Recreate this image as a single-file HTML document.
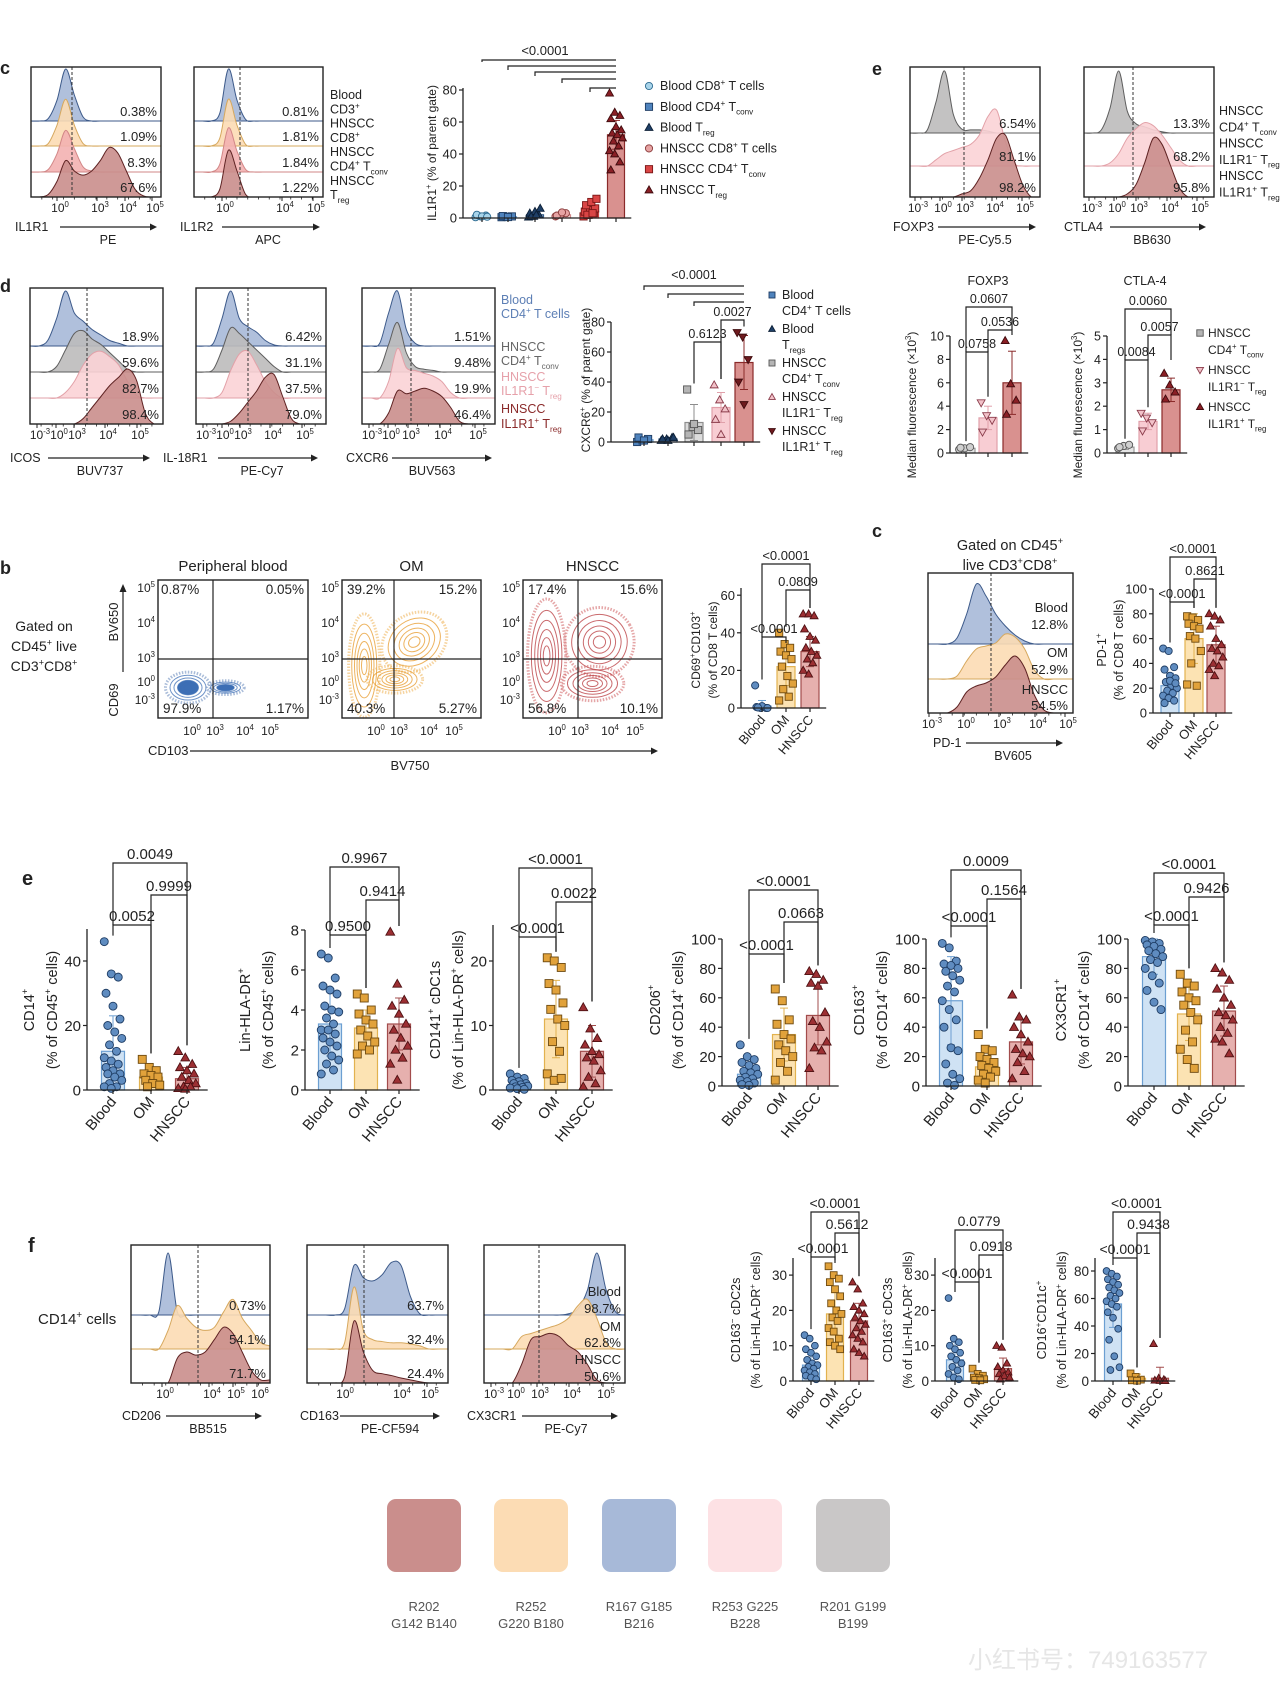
<!DOCTYPE html>
<html><head><meta charset="utf-8"><title>Figure panels</title>
<style>
html,body{margin:0;padding:0;background:#fff;}
svg{display:block;}
text{font-family:"Liberation Sans","Noto Sans CJK SC",sans-serif;}
</style></head>
<body>
<svg id="fig" xmlns="http://www.w3.org/2000/svg" width="1280" height="1706" viewBox="0 0 1280 1706">
<rect x="0" y="0" width="1280" height="1706" fill="#ffffff"/>
<text x="968" y="1668" font-size="24" fill="#e6e6e6">小红书号：749163577</text>
</svg>
<script>
// ===== Bar chart data =====
const c1Vals=[0.8,0.8,2,2,4,52];
const c1Errs=[0.5,0.5,1,1,2,9];
const c1Dots=[[0.5,1,1.5,2,1,0.8],[0.5,0.8,1,1.2,0.6],[0.5,1,2,3,4,6,1,2],[1,2,3,1.5,3.5],[1,2,3,4,5,6,8,10,12,2,3],[78,66,64,62,57,55,53,52,50,48,45,42,40,35,30]];
const c1Ticks=[0,20,40,60,80];
const dVals=[1.5,2,13,23,53];
const dErrs=[1,1,12,10,18];
const dDots=[[0,1,2,3,1],[1,2,3,2,1,3],[35,10,8,5,12],[38,28,22,15,5],[73,70,55,40,25]];
const dTicks=[0,20,40,60,80];
const foxVals=[0.4,3,6];
const foxErrs=[0.1,1,2.7];
const foxDots=[[0.3,0.4,0.5,0.45],[4.3,3.2,2.8,1.8],[9.6,5.9,4.5,3.3]];
const foxTicks=[0,2,4,6,8,10];
const ctlVals=[0.25,1.35,2.7];
const ctlErrs=[0.1,0.35,0.5];
const ctlDots=[[0.2,0.3,0.35,0.25],[1.7,1.5,1.3,0.95],[3.4,2.9,2.6,2.3]];
const ctlTicks=[0,1,2,3,4,5];
const bVals=[1,22,30];
const bErrs=[3,10,8];
const bDots=[[12,0,0,0.5,1,0,0.3],[40,34,32,30,28,26,22,17,13,10,6,4],[50,50,49,42,38,36,32,30,28,26,24,20,18]];
const bTicks=[0,20,40,60];
const cVals=[22,60,55];
const cErrs=[10,20,15];
const cDots=[[52,50,37,35,30,28,25,22,20,18,16,14,12,10,8,26,24],[78,77,75,72,70,68,62,60,50,40,22,23],[80,78,75,70,60,55,52,50,45,40,38,35,30]];
const cTicks=[0,20,40,60,80,100];
const e1Vals=[12,4,3.5];
const e1Errs=[11,3,3.5];
const e1Dots=[[46,36,35,30,26,22,20,18,16,14,12,10,9,8,7,6,5,5,4,3,2,1,1,0.5],[9.5,7,6,5,4.5,4,3,2,1.5,1],[12,10,8,7,6,5,4,3,2,1,1,0.5,0.3]];
const e1Ticks=[0,20,40];
const e2Vals=[3.3,3.1,3.3];
const e2Errs=[1.6,0.9,1.3];
const e2Dots=[[6.8,6.6,5.6,5.2,5,4.8,4.2,4,3.9,3.6,3.3,3,3,2.8,2.6,2.4,2.2,2,1.7,1.5,1.3,1,0.8],[4.8,4.6,4,3.8,3.5,3.3,3,2.7,2.4,2.2,2,1.8],[7.9,5.3,4.5,4.2,3.8,3.3,3,2.6,2.2,2,1.6,1.3,0.5]];
const e2Ticks=[0,2,4,6,8];
const e3Vals=[0.8,11,6];
const e3Errs=[0.7,6,4];
const e3Dots=[[2.5,2,1.8,1.5,1.3,1,1,0.8,0.6,0.5,0.4,0.3,0.2,0.1],[20.5,20,19,16.5,15.5,13.5,12.5,11,10,7.5,6,2.5,1.5,1.8],[12.8,9.5,8,7,6,5.5,5,4.5,3,2,1,0.5]];
const e3Ticks=[0,10,20];
const e4Vals=[8,35,48];
const e4Errs=[6,18,20];
const e4Dots=[[28,20,18,16,14,12,10,9,8,6,5,4,3,2,1,0.5],[66,58,45,42,35,32,28,24,20,16,10,4],[78,76,72,70,68,50,44,40,30,26,24,12]];
const e5Vals=[58,13,30];
const e5Errs=[30,8,15];
const e5Dots=[[97,94,85,83,82,80,78,75,72,68,64,58,52,45,40,26,24,15,8,5,2,0.5],[35,25,24,20,18,16,14,12,10,8,6,4,2],[62,47,45,40,35,30,25,22,20,16,10,5]];
const e6Vals=[88,49,51];
const e6Errs=[12,18,17];
const e6Dots=[[99,98,97,96,95,93,92,90,88,86,84,80,75,70,65,57,52],[76,70,68,64,60,58,55,50,45,38,30,25,18,12],[80,77,72,66,60,55,50,48,45,40,36,32,30,22]];
const pctTicks=[0,20,40,60,80,100];
const f1Vals=[4.5,19,17];
const f1Errs=[3,6,5];
const f1Dots=[[13,12,10,9,8,7,6,5,4.5,4,3.5,3,2.5,2,1.5,1,0.5],[32.5,30,29,28,26,24,22,20,19,18,17,15,14,12,11,10,9],[28,26,22,21,20,19,18,17,16,15,14,13,12,11,9,8,7]];
const f2Vals=[6,1.2,3.5];
const f2Errs=[5,1.2,3];
const f2Dots=[[23.5,12,11,10,9,8,7,6,5,4,3,2,1,0.5],[3.5,2,1.5,1,0.8,0.5,0.3,0.2],[10,9.5,5,4,3,2.5,2,1.5,1,0.5]];
const f30Ticks=[0,10,20,30];
const f3Vals=[56,2,2];
const f3Errs=[17,3,8];
const f3Dots=[[80,78,76,74,72,70,68,66,64,62,60,58,56,54,50,46,38,30,18,10,8],[5.5,3,1,0.5,0.2],[27,2,1,0.5,0.2,0.1]];
const f3Ticks=[0,20,40,60,80];
const groupLabels=['Blood','OM','HNSCC'];

// ===== Histogram data (densities across the axis) =====
const hC1=[[0,0,.05,.4,1,.5,.08,0,0,0,0,0,0,0,0,0],[0,0,.05,.4,.9,.4,.05,0,0,0,0,0,0,0,0,0],[0,0,.05,.35,.8,.45,.1,.02,0,0,0,0,0,0,0,0],[0,0,.05,.3,.7,.5,.42,.5,.7,.95,.85,.5,.15,.02,0,0]];
const hC2=[[0,0,0,.15,1,.4,.03,0,0,0,0,0,0,0,0,0],[0,0,0,.15,.9,.4,.03,0,0,0,0,0,0,0,0,0],[0,0,0,.15,.85,.4,.05,0,0,0,0,0,0,0,0,0],[0,0,0,.15,.9,.5,.05,0,0,0,0,0,0,0,0,0]];
const hE1=[[0,0,.05,.5,1,.3,.06,.05,.05,.03,0,0,0,0,0,0],[0,0,0,.1,.2,.25,.3,.35,.5,.8,.9,.4,.05,0,0,0],[0,0,0,0,0,0,.05,.1,.3,.6,.95,1,.6,.2,0,0]];
const hE2=[[0,0,.05,.4,1,.35,.15,.1,.05,.02,0,0,0,0,0,0],[0,0,0,.05,.2,.45,.6,.7,.65,.5,.3,.1,0,0,0,0],[0,0,0,0,0,.05,.2,.55,.95,.85,.5,.15,0,0,0,0]];
const hD1=[[0,0,.1,.5,1,.6,.45,.3,.2,.1,.05,0,0,0,0,0],[0,0,0,.1,.4,.7,.75,.6,.5,.35,.2,.05,0,0,0,0],[0,0,0,0,.1,.3,.6,.8,.85,.75,.6,.3,.05,0,0,0],[0,0,0,0,0,0,.1,.3,.5,.7,.85,1,.8,.2,0,0]];
const hD2=[[0,0,.05,.5,1,.5,.35,.25,.1,.02,0,0,0,0,0,0],[0,0,.05,.4,.8,.7,.55,.4,.25,.1,0,0,0,0,0,0],[0,0,0,.1,.5,.8,.85,.6,.3,.1,0,0,0,0,0,0],[0,0,0,0,.05,.2,.4,.6,.85,.9,.5,.1,0,0,0,0]];
const hD3=[[0,0,.05,.6,1,.3,.05,0,0,0,0,0,0,0,0,0],[0,0,.05,.5,.9,.35,.1,.05,.03,0,0,0,0,0,0,0],[0,0,0,.3,.9,.55,.5,.45,.4,.3,.1,0,0,0,0,0],[0,0,0,.2,.6,.55,.6,.65,.6,.5,.3,.05,0,0,0,0]];
const hCm=[[0,0,0,.1,.5,1,.8,.5,.3,.15,.05,0,0,0,0,0],[0,0,0,.05,.3,.5,.55,.6,.75,.7,.5,.15,0,0,0,0],[0,0,0,.1,.35,.45,.5,.6,.8,.95,.75,.3,.05,0,0,0]];
const hF1=[[0,0,0,.05,1,.05,0,0,0,0,0,0,0,0,0,0],[0,0,0,0,.3,.7,.5,.35,.3,.35,.6,.8,.5,.3,.1,.05],[0,0,0,0,0,.4,.5,.45,.5,.7,.9,.8,.5,.2,.05,.05]];
const hF2=[[0,0,0,0,.1,.8,.6,.55,.65,.85,.8,.3,.02,0,0,0],[0,0,0,0,.1,1,.3,.15,.12,.1,.1,.08,.05,0,0,0],[0,0,0,0,.1,1,.5,.2,.15,.12,.08,.05,.02,0,0,0]];
const hF3=[[0,0,0,0,0,0,0,0,0,.02,.1,.4,1,.4,.05,0],[0,0,0,0,.2,.25,.3,.35,.4,.5,.7,.8,.5,.1,0,0],[0,0,0,0,.3,.7,.75,.8,.75,.6,.5,.3,.05,0,0,0]];

const NS='http://www.w3.org/2000/svg';
const svg=document.getElementById('fig');
function el(tag,attrs,parent){const e=document.createElementNS(NS,tag);for(const k in attrs)e.setAttribute(k,attrs[k]);(parent||svg).appendChild(e);return e;}
function t(x,y,s,o){o=o||{};const size=o.size||13;
 const e=el('text',{x:x,y:y,'font-size':size,'text-anchor':o.anchor||'start',fill:o.fill||'#222'},o.g);
 if(o.rot)e.setAttribute('transform','rotate('+o.rot+' '+x+' '+y+')');
 if(o.weight)e.setAttribute('font-weight',o.weight);
 const parts=String(s).split(/(\^\{[^}]*\}|_\{[^}]*\})/);let shift=0;
 parts.forEach(p=>{if(!p)return;let dy=0,txt=p,fs=null;
  if(p[0]==='^'){txt=p.slice(2,-1);dy=-size*0.4-shift;shift=-size*0.4;fs=size*0.65;}
  else if(p[0]==='_'){txt=p.slice(2,-1);dy=size*0.3-shift;shift=size*0.3;fs=size*0.65;}
  else{dy=-shift;shift=0;}
  const ts=el('tspan',{},e);if(dy)ts.setAttribute('dy',dy);if(fs)ts.setAttribute('font-size',fs);ts.textContent=txt;});
 
 
 return e;}
function line(x1,y1,x2,y2,st,w,g,dash){const l=el('line',{x1:x1,y1:y1,x2:x2,y2:y2,stroke:st||'#222','stroke-width':w||1.2},g);if(dash)l.setAttribute('stroke-dasharray',dash);return l;}
function arrow(x1,x2,y,g){line(x1,y,x2-4,y,'#222',1.2,g);el('path',{d:`M${x2},${y} L${x2-7},${y-3.5} L${x2-7},${y+3.5}Z`,fill:'#222'},g);}
function smooth(p){let d=`M${p[0][0]},${p[0][1]}`;for(let i=0;i<p.length-1;i++){const p0=p[Math.max(0,i-1)],p1=p[i],p2=p[i+1],p3=p[Math.min(p.length-1,i+2)];
 d+=` C${p1[0]+(p2[0]-p0[0])/6},${p1[1]+(p2[1]-p0[1])/6} ${p2[0]-(p3[0]-p1[0])/6},${p2[1]-(p3[1]-p1[1])/6} ${p2[0]},${p2[1]}`;}return d;}
function mark(x,y,shape,fill,stroke,g,s){s=s||3.6;let m;
 if(shape==='c')m=el('circle',{cx:x,cy:y,r:s},g);
 else if(shape==='s')m=el('rect',{x:x-s,y:y-s,width:2*s,height:2*s},g);
 else if(shape==='t')m=el('path',{d:`M${x},${y-s*1.15} L${x+s*1.1},${y+s*0.8} L${x-s*1.1},${y+s*0.8}Z`},g);
 else m=el('path',{d:`M${x},${y+s*1.15} L${x+s*1.1},${y-s*0.8} L${x-s*1.1},${y-s*0.8}Z`},g);
 m.setAttribute('fill',fill);m.setAttribute('stroke',stroke);m.setAttribute('stroke-width',0.9);
 
 
 return m;}

const ST={
 blood:{bar:'#cfe2f4',bs:'#6c9fd2',dot:'#5f8cc0',ds:'#1e3c63',sh:'c'},
 om:{bar:'#fce3b3',bs:'#e2b24f',dot:'#e1a23b',ds:'#6e4a10',sh:'s'},
 hnscc:{bar:'#e6b0ae',bs:'#a24c4c',dot:'#9c2f33',ds:'#4e1113',sh:'t'},
 lb:{bar:'#dcecf5',bs:'#8cbad6',dot:'#a8d4ea',ds:'#2c6a90',sh:'c'},
 bsq:{bar:'#dde8f3',bs:'#6c9fd2',dot:'#4f83bd',ds:'#1e3c63',sh:'s'},
 navy:{bar:'#d8e0ec',bs:'#335c8a',dot:'#1f3f66',ds:'#0c1f36',sh:'t'},
 pinkc:{bar:'#f7d8d8',bs:'#d48a8a',dot:'#e6a3a3',ds:'#8a3b3b',sh:'c'},
 redsq:{bar:'#f3c4c4',bs:'#c84040',dot:'#d94545',ds:'#7a1515',sh:'s'},
 dred:{bar:'#d9918f',bs:'#8a2a2a',dot:'#8a1f25',ds:'#3e0a0d',sh:'t'},
 gray:{bar:'#dcdcdc',bs:'#8d8d8d',dot:'#b5b5b5',ds:'#555',sh:'s'},
 grayc:{bar:'#e5e5e5',bs:'#999',dot:'#cfcfcf',ds:'#555',sh:'c'},
 pinkt:{bar:'#f8cdd3',bs:'#e0a0aa',dot:'#f2c2c9',ds:'#8a3b4a',sh:'t'},
 pinkd:{bar:'#f8cdd3',bs:'#e0a0aa',dot:'#f2c2c9',ds:'#8a3b4a',sh:'d'},
 dredd:{bar:'#d9918f',bs:'#8a2a2a',dot:'#6e1a1e',ds:'#3e0a0d',sh:'d'}
};

function barChart(c){
 const g=el('g',{});
 
 
 const Y=v=>c.bot-v*c.unit;const bw=c.bw||16;const fs=c.fs||13;
 const xl=c.gx[c.gx.length-1]+bw*0.9;
 c.vals.forEach((v,i)=>{const s=ST[c.st[i]];const x=c.gx[i];
  const r=el('rect',{x:x-bw/2,y:Y(v),width:bw,height:c.bot-Y(v),fill:s.bar,stroke:s.bs,'stroke-width':1.2},g);
  
  
  const e=c.errs[i];line(x,Y(v+e),x,Y(Math.max(0,v-e)),s.bs,1,g);line(x-4,Y(v+e),x+4,Y(v+e),s.bs,1,g);line(x-4,Y(Math.max(0,v-e)),x+4,Y(Math.max(0,v-e)),s.bs,1,g);
  c.dots[i].forEach((d,k)=>{const dx=(((k*37)%11)-5)/5*bw*0.38;mark(x+dx,Y(d),s.sh,s.dot,s.ds,g,c.ms||3.6);});
 });
 line(c.ax,c.bot,c.ax,c.atop,'#222',1.3,g);line(c.ax,c.bot,xl,c.bot,'#222',1.3,g);
 c.ticks.forEach(v=>{line(c.ax-4,Y(v),c.ax,Y(v),'#222',1.2,g);t(c.ax-6,Y(v)+fs*0.36,v,{size:fs,anchor:'end',g:g,name:'y-tick-label'});});
 c.gx.forEach(x=>line(x,c.bot,x,c.bot+4,'#222',1.2,g));
 if(c.xl)c.xl.forEach((s,i)=>t(c.gx[i]+4,c.bot+12,s,{size:c.xfs||fs,anchor:'end',rot:-50,g:g,name:'x-tick-label'}));
 c.yl.forEach((s,i)=>t(c.ylx[i],c.ylY||(c.bot+c.atop)/2,s,{size:c.yfs||fs,anchor:'middle',rot:-90,g:g,name:'y-axis-title'}));
 c.br.forEach(b=>{const x1=c.gx[b[0]],x2=c.gx[b[1]];
  const top1=Y(Math.max(...c.dots[b[0]],c.vals[b[0]]+c.errs[b[0]]))-6, top2=Y(Math.max(...c.dots[b[1]],c.vals[b[1]]+c.errs[b[1]]))-6;
  const l1=b[4]!==undefined?b[4]:Math.max(b[2]+6,top1), l2=b[5]!==undefined?b[5]:Math.max(b[2]+6,top2);
  el('path',{d:`M${x1},${l1} L${x1},${b[2]} L${x2},${b[2]} L${x2},${l2}`,fill:'none',stroke:'#222','stroke-width':1.2},g);
  if(b[3])t((x1+x2)/2,b[2]-4,b[3],{size:c.bfs||fs,anchor:'middle',g:g,name:'p-value-label'});});
 return g;}

function hist(c){
 const g=el('g',{});
 
 
 const cid='clip'+c.name;const cp=el('clipPath',{id:cid},g);el('rect',{x:c.x,y:c.y,width:c.w,height:c.h},cp);
 const inner=el('g',{'clip-path':`url(#${cid})`},g);
 el('rect',{x:c.x,y:c.y,width:c.w,height:c.h,fill:'#fff'},inner);
 c.rows.forEach((v,i)=>{const base=c.bases[i];const n=v.length;const col=c.cols[i];
  const pts=v.map((d,j)=>[c.x+j/(n-1)*c.w,base-d*c.amp]);
  const p=el('path',{d:smooth(pts)+` L${c.x+c.w},${base} L${c.x},${base} Z`,fill:col[0],'fill-opacity':0.9,stroke:col[1],'stroke-width':1},inner);
  
  
  line(c.x,base,c.x+c.w,base,col[1],0.8,inner);});
 line(c.dash,c.y,c.dash,c.y+c.h,'#333',1,inner,'3,2');
 el('rect',{x:c.x,y:c.y,width:c.w,height:c.h,fill:'none',stroke:'#222','stroke-width':1.4},g);
 if(c.pct)c.pct.forEach((s,i)=>t(c.x+c.w-4,c.bases[i]-5,s,{size:13,anchor:'end',g:g,name:'percent-label'}));
 c.ticks.forEach(tk=>{t(tk[1],c.y+c.h+15,tk[0],{size:12,anchor:'middle',g:g,name:'x-tick-label'});line(tk[1]-3,c.y+c.h,tk[1]-3,c.y+c.h+4,'#222',1,g);});
 for(let k=1;k<12;k++)line(c.x+k*c.w/12,c.y+c.h,c.x+k*c.w/12,c.y+c.h+2.5,'#222',0.8,g);
 const ay=c.y+c.h+(c.ay||30);
 t(c.lx,ay+4,c.lab,{size:12.5,g:g,name:'marker-label'});arrow(c.ax1,c.ax2,ay,g);
 t(c.cx,ay+17,c.chan,{size:12.5,anchor:'middle',g:g,name:'channel-label'});
 return g;}

const BLUE=['#a7b9d8','#3d5a8a'],GRAY=['#bdbbbb','#5e5e5e'],ORANGE=['#fcdcb4','#d6a85e'],PINK=['#fbd3d6','#e2a1a8'],PINK2=['#f3b1b1','#d28787'],RED=['#ca8e8c','#5e2222'];

// ---------- panel c (top) ----------
t(0,74,'c',{size:18,weight:'bold',name:'panel-letter-c'});
hist({name:'il1r1-histogram',x:31,y:67,w:130,h:130,bases:[121,146,172,197],amp:52,rows:hC1,cols:[BLUE,ORANGE,PINK2,RED],dash:72,pct:['0.38%','1.09%','8.3%','67.6%'],ticks:[['10^{0}',60],['10^{3}',100],['10^{4}',128],['10^{5}',155]],lab:'IL1R1',lx:15,ax1:60,ax2:157,cx:108,chan:'PE'});
hist({name:'il1r2-histogram',x:194,y:67,w:129,h:130,bases:[121,146,172,197],amp:52,rows:hC2,cols:[BLUE,ORANGE,PINK2,RED],dash:240,pct:['0.81%','1.81%','1.84%','1.22%'],ticks:[['10^{0}',225],['10^{4}',285],['10^{5}',316]],lab:'IL1R2',lx:180,ax1:222,ax2:320,cx:268,chan:'APC'});
['Blood','CD3^{+}','HNSCC','CD8^{+}','HNSCC','CD4^{+} T_{conv}','HNSCC','T_{reg}'].forEach((s,i)=>t(330,99+i*14.3,s,{size:12.5,name:'row-label'}));
barChart({name:'il1r1-bar-chart',ax:463,bot:218,atop:88,unit:1.6,ticks:c1Ticks,gx:[482,508,535,562,590,616],bw:17,vals:c1Vals,errs:c1Errs,dots:c1Dots,st:['lb','bsq','navy','pinkc','redsq','dred'],yl:['IL1R1^{+} (% of parent gate)'],ylx:[436],yfs:12,
 br:[[0,5,60,'',62,60],[1,5,66,'',70,66],[2,5,72,'',76,72],[3,5,79,'',83,79],[4,5,88,'',92,88]]});
t(545,55,'<0.0001',{size:13,anchor:'middle',name:'p-value-label'});
[['lb','Blood CD8^{+} T cells'],['bsq','Blood CD4^{+} T_{conv}'],['navy','Blood T_{reg}'],['pinkc','HNSCC CD8^{+} T cells'],['redsq','HNSCC CD4^{+} T_{conv}'],['dred','HNSCC T_{reg}']].forEach((L,i)=>{const s=ST[L[0]];const y=90+i*20.8;mark(649,y-4,s.sh,s.dot,s.ds,null,3.6);t(660,y,L[1],{size:12.5,name:'legend-entry'});});

// ---------- panel e (top right) ----------
t(872,75,'e',{size:18,weight:'bold',name:'panel-letter-e'});
hist({name:'foxp3-histogram',x:910,y:67,w:130,h:130,bases:[133,166,197],amp:62,rows:hE1,cols:[GRAY,PINK,RED],dash:964,pct:['6.54%','81.1%','98.2%'],ticks:[['10^{-3}',918],['10^{0}',943],['10^{3}',965],['10^{4}',995],['10^{5}',1025]],lab:'FOXP3',lx:893,ax1:938,ax2:1036,cx:985,chan:'PE-Cy5.5'});
hist({name:'ctla4-histogram',x:1084,y:67,w:130,h:130,bases:[133,166,197],amp:62,rows:hE2,cols:[GRAY,PINK,RED],dash:1133,pct:['13.3%','68.2%','95.8%'],ticks:[['10^{-3}',1092],['10^{0}',1117],['10^{3}',1139],['10^{4}',1170],['10^{5}',1200]],lab:'CTLA4',lx:1064,ax1:1110,ax2:1206,cx:1152,chan:'BB630'});
['HNSCC','CD4^{+} T_{conv}','HNSCC','IL1R1^{−} T_{reg}','HNSCC','IL1R1^{+} T_{reg}'].forEach((s,i)=>t(1219,115+i*16.3,s,{size:12.5,name:'row-label'}));
t(988,285,'FOXP3',{size:12.5,anchor:'middle',name:'chart-title'});
t(1145,285,'CTLA-4',{size:12.5,anchor:'middle',name:'chart-title'});
barChart({name:'foxp3-bar-chart',ax:950,bot:453,atop:336,unit:11.7,ticks:foxTicks,gx:[966,988,1012],bw:18,vals:foxVals,errs:foxErrs,dots:foxDots,st:['grayc','pinkd','dred'],yl:['Median fluorescence (×10^{3})'],ylx:[916],ylY:405,yfs:12,fs:12.5,
 br:[[0,2,307,'0.0607',352,330],[1,2,330,'0.0536',352,335],[0,1,352,'0.0758']]});
barChart({name:'ctla4-bar-chart',ax:1107,bot:453,atop:336,unit:23.4,ticks:ctlTicks,gx:[1125,1148,1171],bw:18,vals:ctlVals,errs:ctlErrs,dots:ctlDots,st:['grayc','pinkd','dred'],yl:['Median fluorescence (×10^{3})'],ylx:[1082],ylY:405,yfs:12,fs:12.5,
 br:[[0,2,309,'0.0060',360,335],[1,2,335,'0.0057',360,360],[0,1,360,'0.0084']]});
[['gray','HNSCC','CD4^{+} T_{conv}'],['pinkd','HNSCC','IL1R1^{−} T_{reg}'],['dred','HNSCC','IL1R1^{+} T_{reg}']].forEach((L,i)=>{const s=ST[L[0]];const y=337+i*37;mark(1200,y-4,s.sh,s.dot,s.ds,null,3.2);t(1208,y,L[1],{size:12,name:'legend-entry'});t(1208,y+17,L[2],{size:12,name:'legend-entry'});});

// ---------- panel d ----------
t(0,292,'d',{size:18,weight:'bold',name:'panel-letter-d'});
const dCols=[BLUE,GRAY,PINK,RED];
hist({name:'icos-histogram',x:30,y:288,w:133,h:136,bases:[346,372,398,424],amp:55,rows:hD1,cols:dCols,dash:87,pct:['18.9%','59.6%','82.7%','98.4%'],ticks:[['10^{-3}',40],['10^{0}',59],['10^{3}',77],['10^{4}',108],['10^{5}',140]],ay:34,lab:'ICOS',lx:10,ax1:48,ax2:150,cx:100,chan:'BUV737'});
hist({name:'il18r1-histogram',x:196,y:288,w:130,h:136,bases:[346,372,398,424],amp:55,rows:hD2,cols:dCols,dash:248,pct:['6.42%','31.1%','37.5%','79.0%'],ticks:[['10^{-3}',206],['10^{0}',225],['10^{3}',243],['10^{4}',273],['10^{5}',305]],ay:34,lab:'IL-18R1',lx:163,ax1:218,ax2:318,cx:262,chan:'PE-Cy7'});
hist({name:'cxcr6-histogram',x:362,y:288,w:133,h:136,bases:[346,372,398,424],amp:55,rows:hD3,cols:dCols,dash:411,pct:['1.51%','9.48%','19.9%','46.4%'],ticks:[['10^{-3}',372],['10^{0}',391],['10^{3}',411],['10^{4}',443],['10^{5}',478]],ay:34,lab:'CXCR6',lx:346,ax1:392,ax2:492,cx:432,chan:'BUV563'});
[['Blood',304,'#5d7fb5'],['CD4^{+} T cells',318,'#5d7fb5'],['HNSCC',351,'#666'],['CD4^{+} T_{conv}',365,'#666'],['HNSCC',381,'#e6a1aa'],['IL1R1^{−} T_{reg}',395,'#e6a1aa'],['HNSCC',413,'#8a2a2a'],['IL1R1^{+} T_{reg}',428,'#8a2a2a']].forEach(L=>t(501,L[1],L[0],{size:12.5,fill:L[2],name:'row-label'}));
barChart({name:'cxcr6-bar-chart',ax:611,bot:442,atop:322,unit:1.5,ticks:dTicks,gx:[644,668,694,721,744],bw:18,vals:dVals,errs:dErrs,dots:dDots,st:['bsq','navy','gray','pinkt','dredd'],yl:['CXCR6^{+} (% of parent gate)'],ylx:[590],ylY:380,yfs:12,fs:12.5,
 br:[[0,4,286,'',290,286],[1,4,294,'',298,294],[2,4,302,'',306,302],[3,4,320,'0.0027'],[2,3,342,'0.6123']]});
t(694,279,'<0.0001',{size:12.5,anchor:'middle',name:'p-value-label'});
[['bsq','Blood','CD4^{+} T cells'],['navy','Blood','T_{regs}'],['gray','HNSCC','CD4^{+} T_{conv}'],['pinkt','HNSCC','IL1R1^{−} T_{reg}'],['dredd','HNSCC','IL1R1^{+} T_{reg}']].forEach((L,i)=>{const s=ST[L[0]];const y=299+i*34;mark(772,y-4,s.sh,s.dot,s.ds,null,3);t(782,y,L[1],{size:12.5,name:'legend-entry'});t(782,y+16,L[2],{size:12.5,name:'legend-entry'});});

// ---------- panel b (flow) ----------
t(0,574,'b',{size:18,weight:'bold',name:'panel-letter-b'});
['Gated on','CD45^{+} live','CD3^{+}CD8^{+}'].forEach((s,i)=>t(44,631+i*20,s,{size:14,anchor:'middle',name:'gating-label'}));
const flowBlobs={
 blood:{col:'#3d6fb5',halo:'#6f8fbf',blobs:[[0.2,0.78,0.12,0.09,0],[0.45,0.78,0.1,0.04,0]]},
 om:{col:'#e79a2a',halo:'#f0b860',blobs:[[0.16,0.62,0.09,0.3,0],[0.52,0.45,0.2,0.16,-35],[0.38,0.72,0.16,0.08,0]]},
 hn:{col:'#b8383c',halo:'#d46a6d',blobs:[[0.17,0.55,0.11,0.33,0],[0.55,0.45,0.2,0.2,-30],[0.5,0.75,0.18,0.1,0]]}
};
function flow(c){
 const g=el('g',{});
 
 
 const fb=flowBlobs[c.key];
 fb.blobs.forEach(b=>{const cx=c.x+b[0]*c.w,cy=c.y+b[1]*c.h;
  [1.25,1.0,0.78,0.58,0.4,0.22].forEach((k,j)=>{const e=el('ellipse',{cx:cx,cy:cy,rx:b[2]*c.w*k,ry:b[3]*c.h*k,fill:j===0?'none':(c.key==='blood'&&j>2?fb.col:'none'),stroke:j===0?fb.halo:fb.col,'stroke-width':j===0?3:1,'stroke-opacity':j===0?0.6:0.75,transform:`rotate(${b[4]} ${cx} ${cy})`},g);if(j===0)e.setAttribute('stroke-dasharray','1.5,1.5');});});
 line(c.gx,c.y,c.gx,c.y+c.h,'#222',1.2,g);line(c.x,c.gy,c.x+c.w,c.gy,'#222',1.2,g);
 el('rect',{x:c.x,y:c.y,width:c.w,height:c.h,fill:'none',stroke:'#222','stroke-width':1.4},g);
 t(c.x+(c.x===158?3:5),c.y+14,c.q[0],{size:13.5,g:g,name:'quadrant-percent'});t(c.x+c.w-4,c.y+14,c.q[1],{size:13.5,anchor:'end',g:g,name:'quadrant-percent'});
 t(c.x+5,c.y+c.h-5,c.q[2],{size:13.5,g:g,name:'quadrant-percent'});t(c.x+c.w-4,c.y+c.h-5,c.q[3],{size:13.5,anchor:'end',g:g,name:'quadrant-percent'});
 [['10^{5}',592],['10^{4}',627],['10^{3}',662],['10^{0}',686],['10^{-3}',704]].forEach(k=>t(c.x-3,k[1],k[0],{size:12,anchor:'end',g:g,name:'y-tick-label'}));
 [['10^{0}',34],['10^{3}',57],['10^{4}',87],['10^{5}',112]].forEach(k=>t(c.x+k[1],735,k[0],{size:12,anchor:'middle',g:g,name:'x-tick-label'}));
 t(c.x+c.w/2,571,c.title,{size:15,anchor:'middle',g:g,name:'plot-title'});
}
flow({name:'blood-flow-plot',key:'blood',x:158,y:580,w:150,h:138,gx:213,gy:659,q:['0.87%','0.05%','97.9%','1.17%'],title:'Peripheral blood'});
flow({name:'om-flow-plot',key:'om',x:342,y:580,w:139,h:138,gx:394,gy:659,q:['39.2%','15.2%','40.3%','5.27%'],title:'OM'});
flow({name:'hnscc-flow-plot',key:'hn',x:523,y:580,w:139,h:138,gx:578,gy:659,q:['17.4%','15.6%','56.8%','10.1%'],title:'HNSCC'});
t(118,622,'BV650',{size:13,anchor:'middle',rot:-90,name:'y-channel-label'});
t(118,700,'CD69',{size:13,anchor:'middle',rot:-90,name:'y-marker-label'});
line(123,672,123,592,'#222',1.2);el('path',{d:'M123,584 L119.5,592 L126.5,592Z',fill:'#222'});
t(148,755,'CD103',{size:13,name:'x-marker-label'});arrow(190,658,751);
t(410,770,'BV750',{size:13,anchor:'middle',name:'x-channel-label'});
barChart({name:'cd69-cd103-bar-chart',ax:741,bot:708,atop:588,unit:1.88,ticks:bTicks,gx:[762,786,810],bw:18,vals:bVals,errs:bErrs,dots:bDots,st:['blood','om','hnscc'],xl:groupLabels,yl:['CD69^{+}CD103^{+}','(% of CD8 T cells)'],ylx:[700,717],ylY:650,yfs:12,fs:13,
 br:[[0,2,564,'<0.0001',637],[1,2,590,'0.0809'],[0,1,637,'<0.0001']]});

// ---------- panel c (middle) ----------
t(872,537,'c',{size:18,weight:'bold',name:'panel-letter-c2'});
t(1010,550,'Gated on CD45^{+}',{size:14.5,anchor:'middle',name:'gating-label'});
t(1010,570,'live CD3^{+}CD8^{+}',{size:14.5,anchor:'middle',name:'gating-label'});
hist({name:'pd1-histogram',x:928,y:573,w:145,h:140,bases:[644,679,713],amp:60,rows:hCm,cols:[BLUE,ORANGE,RED],dash:991,ticks:[['10^{-3}',932],['10^{0}',966],['10^{3}',1002],['10^{4}',1038],['10^{5}',1068]],ay:30,lab:'PD-1',lx:933,ax1:966,ax2:1063,cx:1013,chan:'BV605'});
[['Blood',612],['12.8%',629],['OM',657],['52.9%',674],['HNSCC',694],['54.5%',710]].forEach(L=>t(1068,L[1],L[0],{size:13,anchor:'end',name:'row-label'}));
barChart({name:'pd1-bar-chart',ax:1153,bot:713,atop:589,unit:1.24,ticks:cTicks,gx:[1170,1194,1216],bw:18,vals:cVals,errs:cErrs,dots:cDots,st:['blood','om','hnscc'],xl:groupLabels,yl:['PD-1^{+}','(% of CD8 T cells)'],ylx:[1106,1123],ylY:650,yfs:12.5,fs:13,
 br:[[0,2,557,'<0.0001',602],[1,2,579,'0.8621'],[0,1,602,'<0.0001']]});

// ---------- panel e (row) ----------
t(22,885,'e',{size:20,weight:'bold',name:'panel-letter-e2'});
const eCommon={bw:23,fs:15,bfs:15,xfs:15,yfs:14.5,st:['blood','om','hnscc'],xl:groupLabels,ms:4};
barChart(Object.assign({},eCommon,{name:'cd14-bar-chart',ax:87,bot:1090,atop:929,unit:3.225,ticks:e1Ticks,gx:[113,151,187],vals:e1Vals,errs:e1Errs,dots:e1Dots,yl:['CD14^{+}','(% of CD45^{+} cells)'],ylx:[34,57],ylY:1010,br:[[0,2,863,'0.0049',925],[1,2,895,'0.9999'],[0,1,925,'0.0052']]}));
barChart(Object.assign({},eCommon,{name:'lin-hladr-bar-chart',ax:305,bot:1090,atop:930,unit:20,ticks:e2Ticks,gx:[330,366,399],vals:e2Vals,errs:e2Errs,dots:e2Dots,yl:['Lin-HLA-DR^{+}','(% of CD45^{+} cells)'],ylx:[250,273],ylY:1010,br:[[0,2,867,'0.9967',935],[1,2,900,'0.9414'],[0,1,935,'0.9500']]}));
barChart(Object.assign({},eCommon,{name:'cd141-bar-chart',ax:493,bot:1090,atop:925,unit:6.45,ticks:e3Ticks,gx:[519,556,592],vals:e3Vals,errs:e3Errs,dots:e3Dots,yl:['CD141^{+} cDC1s','(% of Lin-HLA-DR^{+} cells)'],ylx:[440,463],ylY:1010,br:[[0,2,868,'<0.0001',937],[1,2,902,'0.0022'],[0,1,937,'<0.0001']]}));
barChart(Object.assign({},eCommon,{name:'cd206-bar-chart',ax:722,bot:1086,atop:939,unit:1.47,ticks:pctTicks,gx:[749,784,818],vals:e4Vals,errs:e4Errs,dots:e4Dots,yl:['CD206^{+}','(% of CD14^{+} cells)'],ylx:[660,683],ylY:1010,br:[[0,2,890,'<0.0001',954],[1,2,922,'0.0663'],[0,1,954,'<0.0001']]}));
barChart(Object.assign({},eCommon,{name:'cd163-bar-chart',ax:926,bot:1086,atop:939,unit:1.47,ticks:pctTicks,gx:[951,987,1021],vals:e5Vals,errs:e5Errs,dots:e5Dots,yl:['CD163^{+}','(% of CD14^{+} cells)'],ylx:[864,887],ylY:1010,br:[[0,2,870,'0.0009',926],[1,2,899,'0.1564'],[0,1,926,'<0.0001']]}));
barChart(Object.assign({},eCommon,{name:'cx3cr1-bar-chart',ax:1128,bot:1086,atop:939,unit:1.47,ticks:pctTicks,gx:[1154,1189,1224],vals:e6Vals,errs:e6Errs,dots:e6Dots,yl:['CX3CR1^{+}','(% of CD14^{+} cells)'],ylx:[1066,1089],ylY:1010,br:[[0,2,873,'<0.0001',925],[1,2,897,'0.9426'],[0,1,925,'<0.0001']]}));

// ---------- panel f ----------
t(28,1252,'f',{size:20,weight:'bold',name:'panel-letter-f'});
t(38,1324,'CD14^{+} cells',{size:15,name:'gating-label'});
hist({name:'cd206-histogram',x:131,y:1245,w:139,h:138,bases:[1315,1349,1383],amp:62,rows:hF1,cols:[BLUE,ORANGE,RED],dash:198,pct:['0.73%','54.1%','71.7%'],ticks:[['10^{0}',165],['10^{4}',212],['10^{5}',236],['10^{6}',260]],ay:33,lab:'CD206',lx:122,ax1:166,ax2:262,cx:208,chan:'BB515'});
hist({name:'cd163-histogram',x:307,y:1245,w:141,h:138,bases:[1315,1349,1383],amp:62,rows:hF2,cols:[BLUE,ORANGE,RED],dash:364,pct:['63.7%','32.4%','24.4%'],ticks:[['10^{0}',345],['10^{4}',402],['10^{5}',430]],ay:33,lab:'CD163',lx:300,ax1:340,ax2:440,cx:390,chan:'PE-CF594'});
hist({name:'cx3cr1-histogram',x:484,y:1245,w:141,h:138,bases:[1315,1349,1383],amp:62,rows:hF3,cols:[BLUE,ORANGE,RED],dash:539,ticks:[['10^{-3}',494],['10^{0}',516],['10^{3}',540],['10^{4}',572],['10^{5}',606]],ay:33,lab:'CX3CR1',lx:467,ax1:522,ax2:618,cx:566,chan:'PE-Cy7'});
[['Blood',1296],['98.7%',1313],['OM',1331],['62.8%',1347],['HNSCC',1364],['50.6%',1381]].forEach(L=>t(621,L[1],L[0],{size:13,anchor:'end',name:'row-label'}));
const fCommon={bw:17,fs:13.5,bfs:14,xfs:13.5,yfs:12.5,st:['blood','om','hnscc'],xl:groupLabels,ms:3.4};
barChart(Object.assign({},fCommon,{name:'cdc2-bar-chart',ax:793,bot:1381,atop:1258,unit:3.53,ticks:f30Ticks,gx:[811,835,859],vals:f1Vals,errs:f1Errs,dots:f1Dots,yl:['CD163^{−} cDC2s','(% of Lin-HLA-DR^{+} cells)'],ylx:[740,760],ylY:1320,br:[[0,2,1212,'<0.0001',1257],[1,2,1233,'0.5612'],[0,1,1257,'<0.0001']]}));
barChart(Object.assign({},fCommon,{name:'cdc3-bar-chart',ax:935,bot:1381,atop:1258,unit:3.53,ticks:f30Ticks,gx:[955,979,1003],vals:f2Vals,errs:f2Errs,dots:f2Dots,yl:['CD163^{+} cDC3s','(% of Lin-HLA-DR^{+} cells)'],ylx:[892,912],ylY:1320,br:[[0,2,1230,'0.0779',1282],[1,2,1255,'0.0918'],[0,1,1282,'<0.0001']]}));
barChart(Object.assign({},fCommon,{name:'cd16-bar-chart',ax:1095,bot:1381,atop:1258,unit:1.375,ticks:f3Ticks,gx:[1113,1137,1160],vals:f3Vals,errs:f3Errs,dots:f3Dots,yl:['CD16^{+}CD11c^{+}','(% of Lin-HLA-DR^{+} cells)'],ylx:[1046,1066],ylY:1320,br:[[0,2,1212,'<0.0001',1258],[1,2,1233,'0.9438'],[0,1,1258,'<0.0001']]}));

// ---------- colour swatches ----------
const swColors=['rgb(202,142,140)','rgb(252,220,180)','rgb(167,185,216)','rgb(253,225,228)','rgb(201,199,199)'];
const swLabels=[['R202','G142 B140'],['R252','G220 B180'],['R167 G185','B216'],['R253 G225','B228'],['R201 G199','B199']];
const swX=[387,494,602,708,816];
swColors.forEach((c,i)=>{const r=el('rect',{x:swX[i],y:1499,width:74,height:73,rx:9,fill:c});
 
 
 t(swX[i]+37,1611,swLabels[i][0],{size:13,anchor:'middle',fill:'#555',name:'swatch-label'});
 t(swX[i]+37,1628,swLabels[i][1],{size:13,anchor:'middle',fill:'#555',name:'swatch-label'});});
</script>
</body></html>
